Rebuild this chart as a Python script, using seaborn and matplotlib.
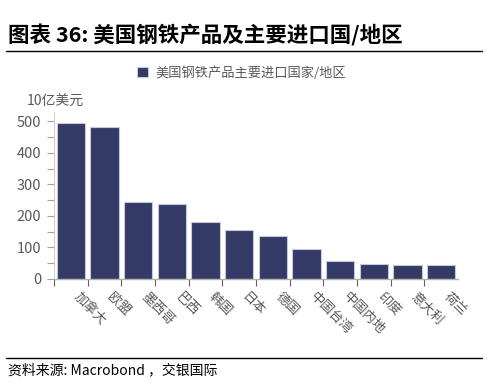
import matplotlib
matplotlib.use("Agg")
import matplotlib.pyplot as plt
import matplotlib.transforms as mtransforms
import seaborn as sns
import pandas as pd
from matplotlib.ticker import MultipleLocator, FixedLocator

countries = ['加拿大', '欧盟', '墨西哥', '巴西', '韩国', '日本', '德国',
             '中国台湾', '中国内地', '印度', '意大利', '荷兰']
imports = [495, 482, 245, 238, 181, 154, 138, 96, 57, 47, 45, 45]

df = pd.DataFrame({'country': countries, 'value': imports})

sns.set_style("white")
plt.rcParams['font.family'] = ['Noto Sans CJK SC', 'DejaVu Sans']

bar_color = '#333A66'
grey = '#595959'

fig = plt.figure(figsize=(4.88, 3.83), dpi=100)
ax = fig.add_axes([54/488, 1-279/383, 404/488, 167/383])

sns.barplot(data=df, x='country', y='value', color=bar_color, width=0.84,
            edgecolor='#c8c8dc', linewidth=0.8, saturation=1, ax=ax,
            label='美国钢铁产品主要进口国家/地区')

ax.set_xlim(-0.5, len(countries) - 0.5)
ax.set_ylim(0, 530)
ax.set_xlabel('')
ax.set_ylabel('')

# y ticks
ax.set_yticks([0, 100, 200, 300, 400, 500])
ax.yaxis.set_minor_locator(MultipleLocator(50))
ax.tick_params(axis='y', which='major', length=5, width=0.8, color='#a0a0a0',
               labelsize=10.5, labelcolor=grey, pad=4, left=True)
ax.tick_params(axis='y', which='minor', length=5, width=0.8, color='#a0a0a0', left=True)

# x ticks: labels at bar centres, tick marks at category boundaries
ax.xaxis.set_minor_locator(FixedLocator([i - 0.5 for i in range(len(countries))]))
ax.tick_params(axis='x', which='major', length=0, labelsize=9.5, labelcolor=grey, pad=8)
ax.tick_params(axis='x', which='minor', length=5, width=0.8, color='#606060', bottom=True)
shift = mtransforms.ScaledTranslation(7/72, 0, fig.dpi_scale_trans)
for lab in ax.get_xticklabels():
    lab.set_rotation(-45)
    lab.set_ha('left')
    lab.set_va('top')
    lab.set_rotation_mode('anchor')
    lab.set_transform(lab.get_transform() + shift)

sns.despine(ax=ax)
ax.spines['left'].set_color('#d0d0d0')
ax.spines['bottom'].set_color('#b0b0b0')
ax.spines['left'].set_linewidth(0.8)
ax.spines['bottom'].set_linewidth(1.0)

ax.legend(loc='lower center', bbox_to_anchor=(0.465, 1.16), frameon=False,
          fontsize=9.5, handlelength=0.8, handleheight=0.8, handletextpad=0.6,
          labelcolor=grey, borderaxespad=0)

fig.text(27/488, 1-102/383, '10亿美元', fontsize=10, color=grey, va='center')

# header and footer
fig.text(8/488, 1-35/383, '图表 36: 美国钢铁产品及主要进口国/地区', fontsize=15.5,
         fontweight='bold', va='center', color='black')
fig.add_artist(plt.Line2D([6/488, 482/488], [1-51/383, 1-51/383], color='black', lw=1))
fig.add_artist(plt.Line2D([6/488, 482/488], [1-358/383, 1-358/383], color='black', lw=1))
fig.text(8/488, 1-370/383, '资料来源: Macrobond ，交银国际', fontsize=10,
         style='italic', va='center', color='black')

fig.savefig('out.png', dpi=100)
